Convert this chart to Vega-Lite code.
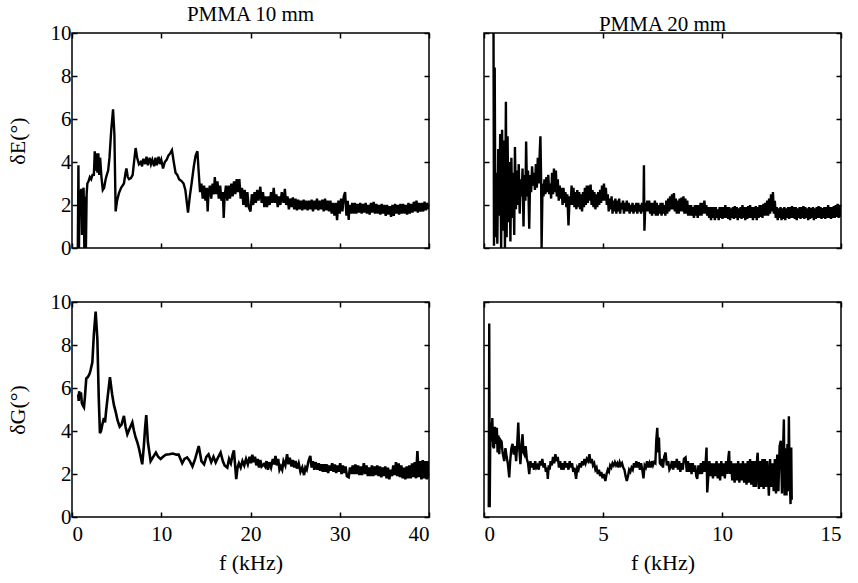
{
"$schema": "https://vega.github.io/schema/vega-lite/v6.json",
"background": "white",
"padding": {"left": 5, "top": 3, "right": 5, "bottom": 0},
"config": {
  "font": "Liberation Serif",
  "view": {"stroke": "black", "strokeWidth": 1.5},
  "style": {"guide-label": {"font": "Liberation Serif", "fill": "black"}, "guide-title": {"font": "Liberation Serif", "fill": "black"}, "group-title": {"font": "Liberation Serif"}},
  "axis": {"domain": false, "grid": false, "tickColor": "black", "tickSize": -5, "tickWidth": 1.5, "labelFont": "Liberation Serif", "labelFontSize": 21, "labelColor": "black", "labelPadding": 6, "titleFont": "Liberation Serif", "titleFontSize": 22, "titleFontWeight": "normal", "titleColor": "black"},
  "title": {"font": "Liberation Serif", "fontSize": 21, "fontWeight": "normal", "color": "black", "offset": -3}
},
"datasets": {
"e10": [
{"f":0.65,"d":0},{"f":0.72,"d":3.85},{"f":0.78,"d":0},{"f":0.85,"d":2.7},{"f":0.95,"d":2.5},{"f":1.05,"d":2.75},{"f":1.12,"d":0.6},{"f":1.2,"d":2.6},{"f":1.3,"d":2.8},{"f":1.38,"d":0},{"f":1.48,"d":2.4},{"f":1.56,"d":0},{"f":1.64,"d":2.5},{"f":1.72,"d":3.0},{"f":1.85,"d":3.1},{"f":2.0,"d":3.3},{"f":2.15,"d":3.2},{"f":2.3,"d":3.4},{"f":2.45,"d":3.4},{"f":2.55,"d":4.5},{"f":2.65,"d":3.6},{"f":2.75,"d":4.4},{"f":2.85,"d":3.5},{"f":2.95,"d":4.4},{"f":3.05,"d":3.4},{"f":3.15,"d":4.2},{"f":3.3,"d":3.3},{"f":3.45,"d":2.7},{"f":3.6,"d":2.8},{"f":3.77,"d":3.2},{"f":3.9,"d":3.4},{"f":4.05,"d":3.6},{"f":4.2,"d":4.2},{"f":4.4,"d":5.5},{"f":4.6,"d":6.45},{"f":4.75,"d":5.3},{"f":4.89,"d":1.7},{"f":5.05,"d":2.2},{"f":5.26,"d":2.55},{"f":5.5,"d":2.8},{"f":5.82,"d":3.0},{"f":6.0,"d":3.5},{"f":6.1,"d":3.7},{"f":6.25,"d":3.3},{"f":6.4,"d":3.2},{"f":6.6,"d":3.25},{"f":6.8,"d":3.4},{"f":6.95,"d":4.0},{"f":7.13,"d":4.65},{"f":7.3,"d":4.2},{"f":7.5,"d":3.9},{"f":7.7,"d":4.0},{"f":7.85,"d":3.8},{"f":8.0,"d":4.15},{"f":8.2,"d":3.9},{"f":8.35,"d":4.25},{"f":8.5,"d":3.85},{"f":8.7,"d":4.2},{"f":8.85,"d":3.9},{"f":9.0,"d":4.1},{"f":9.2,"d":3.8},{"f":9.35,"d":4.2},{"f":9.5,"d":3.85},{"f":9.7,"d":4.25},{"f":9.85,"d":3.9},{"f":10.0,"d":4.1},{"f":10.2,"d":3.7},{"f":10.4,"d":4.0},{"f":10.6,"d":4.1},{"f":10.8,"d":4.3},{"f":11.0,"d":4.4},{"f":11.2,"d":4.55},{"f":11.4,"d":4.0},{"f":11.6,"d":3.5},{"f":11.8,"d":3.4},{"f":12.0,"d":3.2},{"f":12.3,"d":3.1},{"f":12.5,"d":3.0},{"f":12.7,"d":2.7},{"f":12.9,"d":2.0},{"f":13.0,"d":1.65},{"f":13.2,"d":2.4},{"f":13.4,"d":3.0},{"f":13.65,"d":3.8},{"f":13.85,"d":4.3},{"f":14.05,"d":4.5},{"f":14.2,"d":3.5},{"f":14.35,"d":2.6},{"f":14.5,"d":3.0},{"f":14.65,"d":2.3},{"f":14.8,"d":2.9},{"f":14.95,"d":2.2},{"f":15.1,"d":2.8},{"f":15.2,"d":1.7},{"f":15.3,"d":2.6},{"f":15.45,"d":2.9},{"f":15.6,"d":2.3},{"f":15.75,"d":3.0},{"f":15.9,"d":2.5},{"f":16.0,"d":3.3},{"f":16.15,"d":2.5},{"f":16.3,"d":3.1},{"f":16.45,"d":2.3},{"f":16.6,"d":2.9},{"f":16.75,"d":2.2},{"f":16.9,"d":2.6},{"f":17.0,"d":1.4},{"f":17.1,"d":2.4},{"f":17.25,"d":2.9},{"f":17.4,"d":2.2},{"f":17.55,"d":2.9},{"f":17.7,"d":2.3},{"f":17.85,"d":3.0},{"f":18.0,"d":2.4},{"f":18.15,"d":3.1},{"f":18.3,"d":2.5},{"f":18.45,"d":3.2},{"f":18.6,"d":2.6},{"f":18.75,"d":3.2},{"f":18.9,"d":2.3},{"f":19.05,"d":2.8},{"f":19.2,"d":2.0},{"f":19.35,"d":2.7},{"f":19.5,"d":1.9},{"f":19.65,"d":2.6},{"f":19.8,"d":1.9},{"f":20.0,"d":1.7},{"f":20.15,"d":2.5},{"f":20.3,"d":2.0},{"f":20.45,"d":2.6},{"f":20.6,"d":2.1},{"f":20.75,"d":2.7},{"f":20.9,"d":2.2},{"f":21.1,"d":2.85},{"f":21.25,"d":2.1},{"f":21.4,"d":2.6},{"f":21.55,"d":1.9},{"f":21.7,"d":2.4},{"f":21.85,"d":1.9},{"f":22.0,"d":2.4},{"f":22.15,"d":2.0},{"f":22.3,"d":2.6},{"f":22.45,"d":2.1},{"f":22.6,"d":2.8},{"f":22.75,"d":2.1},{"f":22.9,"d":2.5},{"f":23.05,"d":1.9},{"f":23.2,"d":2.4},{"f":23.35,"d":2.0},{"f":23.5,"d":2.6},{"f":23.7,"d":2.1},{"f":23.85,"d":2.75},{"f":24.0,"d":2.0},{"f":24.15,"d":2.4},{"f":24.3,"d":1.8},{"f":24.45,"d":2.3},{"f":24.6,"d":1.9},{"f":24.75,"d":2.35},{"f":24.9,"d":1.8},{"f":25.05,"d":2.3},{"f":25.2,"d":1.75},{"f":25.35,"d":2.25},{"f":25.5,"d":1.8},{"f":25.65,"d":2.2},{"f":25.8,"d":1.75},{"f":25.95,"d":2.25},{"f":26.1,"d":1.8},{"f":26.25,"d":2.2},{"f":26.4,"d":1.75},{"f":26.55,"d":2.2},{"f":26.7,"d":1.8},{"f":26.85,"d":2.25},{"f":27.0,"d":1.7},{"f":27.15,"d":2.2},{"f":27.3,"d":1.8},{"f":27.45,"d":2.3},{"f":27.6,"d":1.75},{"f":27.75,"d":2.2},{"f":27.9,"d":1.8},{"f":28.05,"d":2.25},{"f":28.2,"d":1.7},{"f":28.35,"d":2.3},{"f":28.5,"d":1.75},{"f":28.65,"d":2.2},{"f":28.8,"d":1.7},{"f":28.95,"d":2.2},{"f":29.1,"d":1.6},{"f":29.25,"d":2.1},{"f":29.4,"d":1.5},{"f":29.55,"d":2.1},{"f":29.7,"d":1.3},{"f":29.85,"d":2.2},{"f":30.0,"d":1.6},{"f":30.15,"d":2.3},{"f":30.3,"d":1.7},{"f":30.45,"d":2.4},{"f":30.6,"d":2.6},{"f":30.75,"d":1.5},{"f":30.9,"d":2.2},{"f":31.0,"d":1.3},{"f":31.1,"d":2.0},{"f":31.25,"d":1.6},{"f":31.4,"d":2.1},{"f":31.55,"d":1.6},{"f":31.7,"d":2.1},{"f":31.85,"d":1.6},{"f":32.0,"d":2.05},{"f":32.15,"d":1.65},{"f":32.3,"d":2.1},{"f":32.45,"d":1.6},{"f":32.6,"d":2.05},{"f":32.75,"d":1.65},{"f":32.9,"d":2.1},{"f":33.05,"d":1.6},{"f":33.2,"d":2.0},{"f":33.35,"d":1.55},{"f":33.5,"d":2.1},{"f":33.65,"d":1.65},{"f":33.8,"d":2.15},{"f":33.95,"d":1.6},{"f":34.1,"d":2.05},{"f":34.25,"d":1.6},{"f":34.4,"d":2.0},{"f":34.55,"d":1.55},{"f":34.7,"d":2.05},{"f":34.85,"d":1.6},{"f":35.0,"d":2.0},{"f":35.15,"d":1.5},{"f":35.3,"d":2.0},{"f":35.45,"d":1.55},{"f":35.6,"d":1.95},{"f":35.75,"d":1.45},{"f":35.9,"d":2.0},{"f":36.05,"d":1.5},{"f":36.2,"d":2.05},{"f":36.35,"d":1.6},{"f":36.5,"d":2.0},{"f":36.65,"d":1.55},{"f":36.8,"d":2.05},{"f":36.95,"d":1.6},{"f":37.1,"d":2.05},{"f":37.25,"d":1.6},{"f":37.4,"d":2.0},{"f":37.55,"d":1.55},{"f":37.7,"d":2.1},{"f":37.85,"d":1.6},{"f":38.0,"d":2.05},{"f":38.15,"d":1.65},{"f":38.3,"d":2.15},{"f":38.45,"d":1.7},{"f":38.6,"d":2.2},{"f":38.75,"d":1.65},{"f":38.9,"d":2.1},{"f":39.05,"d":1.7},{"f":39.2,"d":2.1},{"f":39.35,"d":1.7},{"f":39.5,"d":2.15},{"f":39.65,"d":1.75},{"f":39.8,"d":2.1},{"f":39.95,"d":1.8}
],
"e20": [
{"f":0.40,"d":10},{"f":0.42,"d":0.1},{"f":0.45,"d":8.4},{"f":0.48,"d":0.5},{"f":0.52,"d":3.5},{"f":0.56,"d":0.2},{"f":0.60,"d":4.6},{"f":0.64,"d":1.5},{"f":0.68,"d":5.3},{"f":0.72,"d":0.0},{"f":0.76,"d":5.5},{"f":0.80,"d":0.8},{"f":0.84,"d":5.0},{"f":0.88,"d":0.0},{"f":0.92,"d":6.8},{"f":0.95,"d":0.5},{"f":0.99,"d":5.2},{"f":1.03,"d":1.2},{"f":1.07,"d":4.0},{"f":1.11,"d":0.3},{"f":1.15,"d":4.2},{"f":1.19,"d":1.4},{"f":1.23,"d":3.5},{"f":1.27,"d":0.6},{"f":1.30,"d":4.7},{"f":1.34,"d":1.8},{"f":1.38,"d":3.6},{"f":1.42,"d":2.0},{"f":1.46,"d":3.9},{"f":1.50,"d":1.6},{"f":1.54,"d":3.2},{"f":1.58,"d":2.4},{"f":1.62,"d":3.7},{"f":1.66,"d":1.0},{"f":1.70,"d":3.4},{"f":1.74,"d":2.2},{"f":1.77,"d":4.95},{"f":1.81,"d":2.4},{"f":1.85,"d":3.6},{"f":1.90,"d":0.9},{"f":1.94,"d":3.4},{"f":1.98,"d":2.6},{"f":2.02,"d":3.8},{"f":2.06,"d":2.9},{"f":2.10,"d":3.5},{"f":2.14,"d":2.7},{"f":2.18,"d":3.9},{"f":2.22,"d":2.8},{"f":2.26,"d":4.2},{"f":2.30,"d":3.0},{"f":2.34,"d":4.4},{"f":2.37,"d":5.2},{"f":2.40,"d":3.2},{"f":2.42,"d":0.0},{"f":2.46,"d":3.0},{"f":2.50,"d":2.4},{"f":2.54,"d":3.2},{"f":2.58,"d":2.5},{"f":2.62,"d":3.3},{"f":2.66,"d":2.6},{"f":2.70,"d":3.4},{"f":2.74,"d":2.5},{"f":2.78,"d":3.0},{"f":2.82,"d":2.3},{"f":2.86,"d":3.5},{"f":2.90,"d":2.5},{"f":2.94,"d":3.7},{"f":2.98,"d":2.6},{"f":3.02,"d":3.6},{"f":3.06,"d":2.4},{"f":3.10,"d":3.2},{"f":3.14,"d":2.2},{"f":3.18,"d":2.9},{"f":3.22,"d":2.3},{"f":3.26,"d":2.8},{"f":3.30,"d":2.0},{"f":3.34,"d":2.8},{"f":3.38,"d":2.1},{"f":3.42,"d":2.6},{"f":3.46,"d":1.9},{"f":3.50,"d":2.5},{"f":3.55,"d":1.05},{"f":3.60,"d":2.4},{"f":3.64,"d":2.0},{"f":3.68,"d":2.9},{"f":3.72,"d":2.0},{"f":3.76,"d":2.8},{"f":3.80,"d":1.9},{"f":3.84,"d":2.6},{"f":3.88,"d":1.8},{"f":3.92,"d":2.7},{"f":3.96,"d":1.9},{"f":4.00,"d":2.6},{"f":4.04,"d":1.8},{"f":4.08,"d":2.5},{"f":4.12,"d":1.7},{"f":4.16,"d":2.6},{"f":4.20,"d":1.9},{"f":4.24,"d":2.8},{"f":4.28,"d":2.0},{"f":4.32,"d":2.9},{"f":4.36,"d":2.1},{"f":4.40,"d":2.9},{"f":4.44,"d":2.2},{"f":4.48,"d":2.95},{"f":4.52,"d":2.0},{"f":4.56,"d":2.7},{"f":4.60,"d":1.9},{"f":4.64,"d":2.6},{"f":4.68,"d":1.8},{"f":4.72,"d":2.5},{"f":4.76,"d":1.9},{"f":4.80,"d":2.6},{"f":4.84,"d":2.0},{"f":4.88,"d":2.7},{"f":4.92,"d":2.1},{"f":4.96,"d":2.9},{"f":5.00,"d":2.2},{"f":5.04,"d":3.0},{"f":5.08,"d":2.2},{"f":5.12,"d":2.8},{"f":5.16,"d":2.0},{"f":5.20,"d":2.5},{"f":5.24,"d":1.7},{"f":5.28,"d":2.3},{"f":5.32,"d":1.8},{"f":5.36,"d":2.4},{"f":5.40,"d":1.6},{"f":5.44,"d":2.2},{"f":5.48,"d":1.7},{"f":5.52,"d":2.3},{"f":5.56,"d":1.6},{"f":5.60,"d":2.2},{"f":5.64,"d":1.7},{"f":5.68,"d":2.3},{"f":5.72,"d":1.6},{"f":5.76,"d":2.1},{"f":5.80,"d":1.8},{"f":5.84,"d":2.2},{"f":5.88,"d":1.6},{"f":5.92,"d":2.1},{"f":5.96,"d":1.7},{"f":6.00,"d":2.2},{"f":6.04,"d":1.7},{"f":6.08,"d":2.1},{"f":6.12,"d":1.6},{"f":6.16,"d":2.0},{"f":6.20,"d":1.7},{"f":6.24,"d":2.1},{"f":6.28,"d":1.6},{"f":6.32,"d":2.0},{"f":6.36,"d":1.7},{"f":6.40,"d":2.1},{"f":6.44,"d":1.6},{"f":6.48,"d":2.1},{"f":6.52,"d":1.7},{"f":6.56,"d":2.0},{"f":6.60,"d":1.6},{"f":6.64,"d":2.1},{"f":6.70,"d":1.7},{"f":6.72,"d":3.85},{"f":6.74,"d":0.8},{"f":6.78,"d":2.1},{"f":6.82,"d":1.7},{"f":6.86,"d":2.2},{"f":6.90,"d":1.7},{"f":6.94,"d":2.2},{"f":6.98,"d":1.6},{"f":7.02,"d":2.1},{"f":7.06,"d":1.5},{"f":7.10,"d":2.1},{"f":7.14,"d":1.6},{"f":7.18,"d":2.2},{"f":7.22,"d":1.5},{"f":7.26,"d":2.1},{"f":7.30,"d":1.5},{"f":7.34,"d":2.0},{"f":7.38,"d":1.6},{"f":7.42,"d":2.1},{"f":7.46,"d":1.5},{"f":7.50,"d":2.1},{"f":7.54,"d":1.6},{"f":7.58,"d":2.0},{"f":7.62,"d":1.5},{"f":7.66,"d":2.2},{"f":7.70,"d":1.6},{"f":7.74,"d":2.3},{"f":7.78,"d":1.7},{"f":7.82,"d":2.4},{"f":7.86,"d":1.8},{"f":7.90,"d":2.5},{"f":7.94,"d":1.8},{"f":7.98,"d":2.55},{"f":8.02,"d":1.7},{"f":8.06,"d":2.3},{"f":8.10,"d":1.6},{"f":8.14,"d":2.2},{"f":8.18,"d":1.6},{"f":8.22,"d":2.3},{"f":8.26,"d":1.7},{"f":8.30,"d":2.35},{"f":8.34,"d":1.7},{"f":8.38,"d":2.4},{"f":8.42,"d":1.6},{"f":8.46,"d":2.3},{"f":8.50,"d":1.6},{"f":8.54,"d":2.2},{"f":8.58,"d":1.5},{"f":8.62,"d":2.0},{"f":8.66,"d":1.5},{"f":8.70,"d":2.0},{"f":8.74,"d":1.5},{"f":8.78,"d":1.9},{"f":8.82,"d":1.4},{"f":8.86,"d":2.0},{"f":8.90,"d":1.5},{"f":8.94,"d":2.0},{"f":8.98,"d":1.4},{"f":9.02,"d":2.0},{"f":9.06,"d":1.5},{"f":9.10,"d":2.1},{"f":9.14,"d":1.5},{"f":9.18,"d":2.1},{"f":9.22,"d":1.6},{"f":9.26,"d":2.2},{"f":9.30,"d":1.6},{"f":9.34,"d":2.0},{"f":9.38,"d":1.5},{"f":9.42,"d":1.9},{"f":9.46,"d":1.4},{"f":9.50,"d":1.9},{"f":9.54,"d":1.3},{"f":9.58,"d":1.9},{"f":9.62,"d":1.4},{"f":9.66,"d":1.9},{"f":9.70,"d":1.3},{"f":9.74,"d":1.9},{"f":9.78,"d":1.4},{"f":9.82,"d":1.8},{"f":9.86,"d":1.3},{"f":9.90,"d":1.9},{"f":9.94,"d":1.4},{"f":9.98,"d":1.9},{"f":10.02,"d":1.35},{"f":10.06,"d":1.9},{"f":10.10,"d":1.4},{"f":10.14,"d":2.0},{"f":10.18,"d":1.4},{"f":10.22,"d":1.9},{"f":10.26,"d":1.35},{"f":10.30,"d":1.9},{"f":10.34,"d":1.3},{"f":10.38,"d":1.85},{"f":10.42,"d":1.4},{"f":10.46,"d":1.9},{"f":10.50,"d":1.35},{"f":10.54,"d":1.95},{"f":10.58,"d":1.4},{"f":10.62,"d":1.9},{"f":10.66,"d":1.3},{"f":10.70,"d":1.85},{"f":10.74,"d":1.4},{"f":10.78,"d":1.9},{"f":10.82,"d":1.35},{"f":10.86,"d":2.0},{"f":10.90,"d":1.4},{"f":10.94,"d":1.9},{"f":10.98,"d":1.3},{"f":11.02,"d":1.9},{"f":11.06,"d":1.35},{"f":11.10,"d":1.95},{"f":11.14,"d":1.4},{"f":11.18,"d":2.0},{"f":11.22,"d":1.4},{"f":11.26,"d":1.9},{"f":11.30,"d":1.3},{"f":11.34,"d":1.9},{"f":11.38,"d":1.4},{"f":11.42,"d":1.95},{"f":11.46,"d":1.3},{"f":11.50,"d":1.9},{"f":11.54,"d":1.4},{"f":11.58,"d":2.0},{"f":11.62,"d":1.45},{"f":11.66,"d":2.0},{"f":11.70,"d":1.4},{"f":11.74,"d":2.05},{"f":11.78,"d":1.5},{"f":11.82,"d":2.1},{"f":11.86,"d":1.5},{"f":11.90,"d":2.2},{"f":11.94,"d":1.5},{"f":11.98,"d":2.3},{"f":12.02,"d":1.6},{"f":12.06,"d":2.5},{"f":12.10,"d":1.7},{"f":12.14,"d":2.6},{"f":12.18,"d":1.6},{"f":12.22,"d":2.2},{"f":12.26,"d":1.4},{"f":12.30,"d":1.9},{"f":12.34,"d":1.3},{"f":12.38,"d":1.85},{"f":12.42,"d":1.4},{"f":12.46,"d":1.9},{"f":12.50,"d":1.3},{"f":12.54,"d":1.85},{"f":12.58,"d":1.35},{"f":12.62,"d":1.9},{"f":12.66,"d":1.3},{"f":12.70,"d":1.85},{"f":12.74,"d":1.4},{"f":12.78,"d":1.9},{"f":12.82,"d":1.35},{"f":12.86,"d":1.9},{"f":12.90,"d":1.4},{"f":12.94,"d":1.95},{"f":12.98,"d":1.4},{"f":13.02,"d":1.9},{"f":13.06,"d":1.35},{"f":13.10,"d":1.9},{"f":13.14,"d":1.3},{"f":13.18,"d":1.85},{"f":13.22,"d":1.4},{"f":13.26,"d":1.9},{"f":13.30,"d":1.35},{"f":13.34,"d":1.9},{"f":13.38,"d":1.4},{"f":13.42,"d":1.95},{"f":13.46,"d":1.35},{"f":13.50,"d":1.9},{"f":13.54,"d":1.4},{"f":13.58,"d":1.85},{"f":13.62,"d":1.3},{"f":13.66,"d":1.9},{"f":13.70,"d":1.35},{"f":13.74,"d":1.85},{"f":13.78,"d":1.4},{"f":13.82,"d":1.9},{"f":13.86,"d":1.3},{"f":13.90,"d":1.85},{"f":13.94,"d":1.35},{"f":13.98,"d":1.9},{"f":14.02,"d":1.4},{"f":14.06,"d":1.95},{"f":14.10,"d":1.4},{"f":14.14,"d":1.9},{"f":14.18,"d":1.35},{"f":14.22,"d":1.85},{"f":14.26,"d":1.4},{"f":14.30,"d":1.9},{"f":14.34,"d":1.35},{"f":14.38,"d":1.9},{"f":14.42,"d":1.4},{"f":14.46,"d":2.0},{"f":14.50,"d":1.4},{"f":14.54,"d":1.9},{"f":14.58,"d":1.35},{"f":14.62,"d":1.9},{"f":14.66,"d":1.4},{"f":14.70,"d":1.95},{"f":14.74,"d":1.4},{"f":14.78,"d":2.0},{"f":14.82,"d":1.45},{"f":14.86,"d":2.05},{"f":14.90,"d":1.4},{"f":14.94,"d":2.0},{"f":14.98,"d":1.45}
],
"g10": [
{"f":0.7,"d":5.7},{"f":0.75,"d":5.4},{"f":0.8,"d":5.85},{"f":0.9,"d":5.5},{"f":1.0,"d":5.8},{"f":1.1,"d":5.3},{"f":1.2,"d":5.2},{"f":1.34,"d":5.1},{"f":1.45,"d":5.6},{"f":1.6,"d":6.45},{"f":1.75,"d":6.5},{"f":1.9,"d":6.6},{"f":2.0,"d":6.7},{"f":2.09,"d":6.85},{"f":2.28,"d":7.2},{"f":2.45,"d":8.5},{"f":2.65,"d":9.55},{"f":2.84,"d":8.3},{"f":3.0,"d":5.5},{"f":3.13,"d":3.9},{"f":3.25,"d":4.0},{"f":3.4,"d":4.3},{"f":3.58,"d":4.6},{"f":3.7,"d":4.4},{"f":3.84,"d":5.0},{"f":4.0,"d":5.6},{"f":4.25,"d":6.5},{"f":4.5,"d":5.7},{"f":4.7,"d":5.2},{"f":4.89,"d":4.9},{"f":5.1,"d":4.5},{"f":5.34,"d":4.2},{"f":5.55,"d":4.3},{"f":5.82,"d":4.7},{"f":6.0,"d":4.2},{"f":6.2,"d":3.85},{"f":6.45,"d":4.1},{"f":6.76,"d":4.4},{"f":6.95,"d":4.0},{"f":7.13,"d":3.7},{"f":7.3,"d":3.5},{"f":7.5,"d":3.2},{"f":7.7,"d":2.8},{"f":7.87,"d":2.45},{"f":8.05,"d":3.3},{"f":8.2,"d":4.2},{"f":8.32,"d":4.74},{"f":8.5,"d":3.5},{"f":8.81,"d":2.6},{"f":9.1,"d":2.8},{"f":9.4,"d":3.0},{"f":9.65,"d":2.8},{"f":9.93,"d":2.7},{"f":10.2,"d":2.8},{"f":10.5,"d":2.9},{"f":10.9,"d":2.92},{"f":11.3,"d":2.95},{"f":11.7,"d":2.9},{"f":11.95,"d":2.9},{"f":12.35,"d":2.5},{"f":12.6,"d":2.7},{"f":12.9,"d":2.77},{"f":13.2,"d":2.6},{"f":13.5,"d":2.35},{"f":13.8,"d":2.7},{"f":14.2,"d":3.3},{"f":14.5,"d":2.6},{"f":14.8,"d":2.45},{"f":15.05,"d":2.8},{"f":15.3,"d":2.92},{"f":15.6,"d":2.55},{"f":15.85,"d":2.8},{"f":16.1,"d":2.54},{"f":16.4,"d":2.8},{"f":16.65,"d":3.0},{"f":16.9,"d":2.6},{"f":17.1,"d":2.4},{"f":17.4,"d":2.3},{"f":17.6,"d":2.7},{"f":17.8,"d":2.5},{"f":18.0,"d":2.9},{"f":18.14,"d":3.1},{"f":18.3,"d":2.3},{"f":18.4,"d":1.76},{"f":18.55,"d":2.3},{"f":18.7,"d":2.5},{"f":18.9,"d":2.3},{"f":19.1,"d":2.6},{"f":19.3,"d":2.4},{"f":19.5,"d":2.7},{"f":19.7,"d":2.45},{"f":19.9,"d":2.8},{"f":20.05,"d":2.5},{"f":20.2,"d":2.9},{"f":20.35,"d":2.55},{"f":20.5,"d":2.8},{"f":20.65,"d":2.4},{"f":20.8,"d":2.7},{"f":20.95,"d":2.3},{"f":21.1,"d":2.65},{"f":21.25,"d":2.35},{"f":21.5,"d":2.46},{"f":21.65,"d":2.35},{"f":21.8,"d":2.6},{"f":21.95,"d":2.2},{"f":22.1,"d":2.55},{"f":22.3,"d":2.3},{"f":22.5,"d":2.7},{"f":22.65,"d":2.45},{"f":22.8,"d":2.84},{"f":22.95,"d":2.4},{"f":23.1,"d":2.7},{"f":23.25,"d":2.2},{"f":23.4,"d":2.35},{"f":23.55,"d":2.2},{"f":23.7,"d":2.6},{"f":23.9,"d":2.4},{"f":24.1,"d":2.92},{"f":24.25,"d":2.45},{"f":24.4,"d":2.75},{"f":24.6,"d":2.35},{"f":24.75,"d":2.65},{"f":24.9,"d":2.3},{"f":25.05,"d":2.6},{"f":25.2,"d":2.25},{"f":25.4,"d":2.5},{"f":25.6,"d":2.1},{"f":25.8,"d":2.3},{"f":26.0,"d":1.95},{"f":26.15,"d":2.3},{"f":26.3,"d":2.2},{"f":26.5,"d":2.6},{"f":26.7,"d":2.84},{"f":26.85,"d":2.3},{"f":27.0,"d":2.6},{"f":27.15,"d":2.2},{"f":27.3,"d":2.55},{"f":27.5,"d":2.2},{"f":27.65,"d":2.5},{"f":27.8,"d":2.15},{"f":27.95,"d":2.45},{"f":28.1,"d":2.1},{"f":28.25,"d":2.45},{"f":28.4,"d":2.1},{"f":28.55,"d":2.45},{"f":28.7,"d":2.05},{"f":28.85,"d":2.4},{"f":29.0,"d":2.15},{"f":29.15,"d":2.5},{"f":29.3,"d":2.1},{"f":29.45,"d":2.45},{"f":29.6,"d":2.05},{"f":29.75,"d":2.4},{"f":29.9,"d":2.1},{"f":30.05,"d":2.5},{"f":30.2,"d":2.0},{"f":30.35,"d":2.4},{"f":30.5,"d":2.05},{"f":30.65,"d":2.35},{"f":30.8,"d":1.9},{"f":31.0,"d":1.85},{"f":31.15,"d":2.3},{"f":31.3,"d":2.0},{"f":31.45,"d":2.4},{"f":31.6,"d":2.0},{"f":31.75,"d":2.45},{"f":31.9,"d":2.0},{"f":32.05,"d":2.4},{"f":32.2,"d":1.95},{"f":32.35,"d":2.35},{"f":32.5,"d":1.95},{"f":32.7,"d":2.5},{"f":32.85,"d":2.0},{"f":33.0,"d":2.4},{"f":33.15,"d":1.9},{"f":33.3,"d":2.3},{"f":33.45,"d":1.9},{"f":33.6,"d":2.4},{"f":33.75,"d":1.9},{"f":33.9,"d":2.35},{"f":34.05,"d":1.95},{"f":34.2,"d":2.4},{"f":34.35,"d":1.9},{"f":34.5,"d":2.35},{"f":34.65,"d":1.85},{"f":34.8,"d":2.3},{"f":34.95,"d":1.9},{"f":35.1,"d":2.35},{"f":35.25,"d":1.8},{"f":35.4,"d":2.3},{"f":35.55,"d":1.75},{"f":35.7,"d":2.2},{"f":35.85,"d":1.9},{"f":36.0,"d":2.4},{"f":36.15,"d":1.95},{"f":36.3,"d":2.55},{"f":36.45,"d":1.9},{"f":36.6,"d":2.5},{"f":36.75,"d":1.85},{"f":36.9,"d":2.4},{"f":37.05,"d":1.8},{"f":37.2,"d":2.3},{"f":37.35,"d":1.75},{"f":37.5,"d":2.35},{"f":37.65,"d":1.8},{"f":37.8,"d":2.4},{"f":37.95,"d":1.8},{"f":38.1,"d":2.5},{"f":38.25,"d":1.85},{"f":38.4,"d":2.55},{"f":38.55,"d":1.8},{"f":38.7,"d":3.07},{"f":38.85,"d":1.85},{"f":39.0,"d":2.6},{"f":39.15,"d":1.75},{"f":39.3,"d":2.65},{"f":39.45,"d":1.8},{"f":39.6,"d":2.6},{"f":39.75,"d":1.75},{"f":39.9,"d":2.6},{"f":40.0,"d":1.8}
],
"g20": [
{"f":0.20,"d":0.45},{"f":0.22,"d":9.0},{"f":0.24,"d":0.45},{"f":0.27,"d":4.4},{"f":0.30,"d":3.5},{"f":0.35,"d":4.6},{"f":0.38,"d":3.3},{"f":0.42,"d":3.2},{"f":0.46,"d":4.2},{"f":0.50,"d":3.4},{"f":0.54,"d":4.15},{"f":0.57,"d":3.0},{"f":0.60,"d":3.8},{"f":0.64,"d":2.92},{"f":0.68,"d":3.6},{"f":0.74,"d":3.5},{"f":0.78,"d":3.0},{"f":0.85,"d":2.6},{"f":0.90,"d":3.2},{"f":0.95,"d":2.8},{"f":1.00,"d":2.5},{"f":1.06,"d":1.84},{"f":1.10,"d":2.6},{"f":1.15,"d":3.2},{"f":1.20,"d":3.4},{"f":1.25,"d":2.9},{"f":1.30,"d":3.3},{"f":1.35,"d":2.6},{"f":1.40,"d":3.5},{"f":1.44,"d":4.39},{"f":1.48,"d":3.2},{"f":1.53,"d":2.46},{"f":1.58,"d":3.4},{"f":1.62,"d":3.85},{"f":1.66,"d":3.0},{"f":1.70,"d":2.9},{"f":1.75,"d":3.3},{"f":1.80,"d":2.7},{"f":1.85,"d":2.5},{"f":1.90,"d":1.99},{"f":1.95,"d":2.6},{"f":2.00,"d":2.3},{"f":2.05,"d":2.5},{"f":2.10,"d":2.2},{"f":2.15,"d":2.6},{"f":2.20,"d":2.3},{"f":2.25,"d":2.4},{"f":2.30,"d":2.2},{"f":2.35,"d":2.6},{"f":2.40,"d":2.4},{"f":2.45,"d":2.7},{"f":2.50,"d":2.3},{"f":2.55,"d":2.5},{"f":2.60,"d":2.1},{"f":2.65,"d":2.3},{"f":2.68,"d":1.77},{"f":2.72,"d":2.4},{"f":2.76,"d":2.2},{"f":2.80,"d":2.6},{"f":2.85,"d":2.4},{"f":2.90,"d":2.8},{"f":2.95,"d":2.5},{"f":3.00,"d":2.92},{"f":3.05,"d":2.6},{"f":3.10,"d":2.8},{"f":3.15,"d":2.3},{"f":3.20,"d":2.6},{"f":3.25,"d":2.2},{"f":3.30,"d":2.5},{"f":3.35,"d":2.2},{"f":3.40,"d":2.6},{"f":3.45,"d":2.3},{"f":3.50,"d":2.5},{"f":3.55,"d":2.2},{"f":3.60,"d":2.6},{"f":3.65,"d":2.3},{"f":3.70,"d":2.5},{"f":3.75,"d":2.1},{"f":3.80,"d":2.3},{"f":3.87,"d":1.77},{"f":3.92,"d":2.3},{"f":3.97,"d":2.2},{"f":4.02,"d":2.5},{"f":4.07,"d":2.3},{"f":4.12,"d":2.6},{"f":4.17,"d":2.4},{"f":4.22,"d":2.7},{"f":4.27,"d":2.5},{"f":4.32,"d":2.7},{"f":4.37,"d":2.6},{"f":4.43,"d":2.92},{"f":4.48,"d":2.5},{"f":4.53,"d":2.7},{"f":4.58,"d":2.4},{"f":4.63,"d":2.5},{"f":4.68,"d":2.2},{"f":4.73,"d":2.3},{"f":4.78,"d":2.0},{"f":4.83,"d":2.2},{"f":4.88,"d":1.9},{"f":4.93,"d":2.1},{"f":4.98,"d":1.8},{"f":5.03,"d":2.0},{"f":5.10,"d":1.67},{"f":5.15,"d":2.0},{"f":5.20,"d":2.2},{"f":5.25,"d":2.1},{"f":5.30,"d":2.4},{"f":5.35,"d":2.3},{"f":5.40,"d":2.5},{"f":5.45,"d":2.4},{"f":5.50,"d":2.55},{"f":5.55,"d":2.4},{"f":5.60,"d":2.5},{"f":5.65,"d":2.3},{"f":5.70,"d":2.55},{"f":5.75,"d":2.4},{"f":5.80,"d":2.5},{"f":5.85,"d":2.3},{"f":5.90,"d":2.2},{"f":5.95,"d":1.9},{"f":6.00,"d":1.68},{"f":6.05,"d":1.9},{"f":6.10,"d":2.2},{"f":6.15,"d":2.1},{"f":6.20,"d":2.3},{"f":6.25,"d":2.2},{"f":6.30,"d":2.5},{"f":6.35,"d":2.3},{"f":6.40,"d":2.6},{"f":6.45,"d":2.3},{"f":6.50,"d":2.55},{"f":6.55,"d":2.2},{"f":6.60,"d":2.5},{"f":6.65,"d":2.2},{"f":6.70,"d":1.8},{"f":6.75,"d":2.4},{"f":6.80,"d":2.3},{"f":6.85,"d":2.6},{"f":6.90,"d":2.3},{"f":6.95,"d":2.5},{"f":7.00,"d":2.3},{"f":7.05,"d":2.6},{"f":7.10,"d":2.4},{"f":7.15,"d":2.55},{"f":7.20,"d":2.5},{"f":7.24,"d":3.6},{"f":7.28,"d":4.15},{"f":7.32,"d":3.0},{"f":7.35,"d":3.7},{"f":7.39,"d":2.5},{"f":7.42,"d":2.46},{"f":7.47,"d":2.7},{"f":7.52,"d":2.3},{"f":7.57,"d":2.8},{"f":7.63,"d":3.0},{"f":7.68,"d":2.4},{"f":7.74,"d":2.6},{"f":7.79,"d":2.2},{"f":7.84,"d":2.3},{"f":7.90,"d":2.6},{"f":7.95,"d":2.2},{"f":8.00,"d":2.6},{"f":8.05,"d":2.3},{"f":8.10,"d":2.7},{"f":8.15,"d":2.2},{"f":8.20,"d":2.6},{"f":8.25,"d":2.1},{"f":8.30,"d":2.5},{"f":8.35,"d":2.2},{"f":8.40,"d":2.7},{"f":8.47,"d":2.77},{"f":8.52,"d":2.1},{"f":8.57,"d":2.6},{"f":8.62,"d":2.1},{"f":8.67,"d":2.5},{"f":8.72,"d":2.0},{"f":8.77,"d":2.5},{"f":8.82,"d":2.1},{"f":8.87,"d":2.4},{"f":8.92,"d":1.9},{"f":8.96,"d":1.77},{"f":9.01,"d":2.4},{"f":9.06,"d":2.0},{"f":9.11,"d":2.5},{"f":9.16,"d":2.0},{"f":9.21,"d":2.6},{"f":9.26,"d":2.1},{"f":9.31,"d":2.5},{"f":9.35,"d":3.23},{"f":9.38,"d":1.14},{"f":9.42,"d":1.8},{"f":9.47,"d":2.6},{"f":9.52,"d":1.9},{"f":9.57,"d":2.5},{"f":9.62,"d":1.8},{"f":9.67,"d":2.5},{"f":9.72,"d":1.9},{"f":9.77,"d":2.6},{"f":9.82,"d":1.8},{"f":9.87,"d":2.5},{"f":9.92,"d":1.7},{"f":9.97,"d":2.6},{"f":10.02,"d":1.9},{"f":10.07,"d":2.5},{"f":10.12,"d":1.8},{"f":10.17,"d":2.6},{"f":10.22,"d":2.0},{"f":10.27,"d":2.8},{"f":10.30,"d":3.07},{"f":10.33,"d":2.0},{"f":10.38,"d":2.6},{"f":10.43,"d":1.7},{"f":10.48,"d":2.5},{"f":10.53,"d":1.6},{"f":10.58,"d":2.5},{"f":10.63,"d":1.7},{"f":10.68,"d":2.6},{"f":10.73,"d":1.6},{"f":10.78,"d":2.5},{"f":10.83,"d":1.7},{"f":10.88,"d":2.6},{"f":10.93,"d":1.6},{"f":10.98,"d":2.5},{"f":11.03,"d":1.5},{"f":11.08,"d":2.6},{"f":11.13,"d":1.6},{"f":11.18,"d":2.7},{"f":11.23,"d":1.5},{"f":11.28,"d":2.6},{"f":11.33,"d":1.4},{"f":11.38,"d":2.6},{"f":11.43,"d":1.4},{"f":11.48,"d":2.8},{"f":11.50,"d":2.99},{"f":11.55,"d":1.3},{"f":11.60,"d":2.6},{"f":11.65,"d":1.4},{"f":11.70,"d":2.7},{"f":11.75,"d":1.3},{"f":11.80,"d":2.7},{"f":11.85,"d":1.4},{"f":11.90,"d":2.6},{"f":11.97,"d":0.99},{"f":12.02,"d":2.7},{"f":12.07,"d":1.4},{"f":12.12,"d":2.5},{"f":12.17,"d":1.2},{"f":12.22,"d":2.7},{"f":12.27,"d":1.1},{"f":12.32,"d":2.9},{"f":12.37,"d":1.2},{"f":12.42,"d":3.3},{"f":12.47,"d":3.54},{"f":12.52,"d":1.1},{"f":12.57,"d":3.3},{"f":12.60,"d":4.54},{"f":12.63,"d":1.0},{"f":12.67,"d":3.2},{"f":12.71,"d":1.0},{"f":12.75,"d":3.4},{"f":12.78,"d":1.2},{"f":12.81,"d":4.69},{"f":12.84,"d":2.0},{"f":12.88,"d":0.6},{"f":12.91,"d":3.23},{"f":12.93,"d":0.8}
]
},
"columns": 2,
"bounds": "flush",
"spacing": {"row": 54, "column": 55},
"concat": [
 {"width": 357, "height": 215, "title": {"text": "PMMA 10 mm", "font": "Liberation Serif"}, "data": {"name": "e10"},
  "layer": [
   {"mark": {"type": "line", "color": "black", "strokeWidth": 2.4, "clip": true},
    "encoding": {
     "x": {"field": "f", "type": "quantitative", "scale": {"domain": [0, 40], "nice": false}, "axis": {"orient": "bottom", "labels": false, "title": null, "values": [0, 10, 20, 30, 40]}},
     "y": {"field": "d", "type": "quantitative", "scale": {"domain": [0, 10], "nice": false}, "axis": {"orient": "left", "title": "δE(°)", "titlePadding": 21, "labelFont": "Liberation Serif", "titleFont": "Liberation Serif", "values": [0, 2, 4, 6, 8, 10]}}}},
   {"mark": {"type": "line", "strokeOpacity": 0},
    "encoding": {
     "x": {"field": "f", "type": "quantitative", "axis": {"orient": "top", "labels": false, "title": null, "values": [0, 10, 20, 30, 40]}},
     "y": {"field": "d", "type": "quantitative", "axis": {"orient": "right", "labels": false, "title": null, "values": [0, 2, 4, 6, 8, 10]}}}}
  ],
  "resolve": {"axis": {"x": "independent", "y": "independent"}}},
 {"width": 357, "height": 215, "title": {"text": "PMMA 20 mm", "font": "Liberation Serif"}, "data": {"name": "e20"},
  "layer": [
   {"mark": {"type": "line", "color": "black", "strokeWidth": 2.4, "clip": true},
    "encoding": {
     "x": {"field": "f", "type": "quantitative", "scale": {"domain": [0, 15], "nice": false}, "axis": {"orient": "bottom", "labels": false, "title": null, "values": [0, 5, 10, 15]}},
     "y": {"field": "d", "type": "quantitative", "scale": {"domain": [0, 10], "nice": false}, "axis": {"orient": "left", "labels": false, "title": null, "values": [0, 2, 4, 6, 8, 10]}}}},
   {"mark": {"type": "line", "strokeOpacity": 0},
    "encoding": {
     "x": {"field": "f", "type": "quantitative", "axis": {"orient": "top", "labels": false, "title": null, "values": [0, 5, 10, 15]}},
     "y": {"field": "d", "type": "quantitative", "axis": {"orient": "right", "labels": false, "title": null, "values": [0, 2, 4, 6, 8, 10]}}}}
  ],
  "resolve": {"axis": {"x": "independent", "y": "independent"}}},
 {"width": 357, "height": 215, "data": {"name": "g10"},
  "layer": [
   {"mark": {"type": "line", "color": "black", "strokeWidth": 2.6, "clip": true},
    "encoding": {
     "x": {"field": "f", "type": "quantitative", "scale": {"domain": [0, 40], "nice": false}, "axis": {"orient": "bottom", "title": "f (kHz)", "titlePadding": 8, "labelPadding": 11, "labelFont": "Liberation Serif", "titleFont": "Liberation Serif", "values": [0, 10, 20, 30, 40]}},
     "y": {"field": "d", "type": "quantitative", "scale": {"domain": [0, 10], "nice": false}, "axis": {"orient": "left", "title": "δG(°)", "titlePadding": 21, "labelFont": "Liberation Serif", "titleFont": "Liberation Serif", "values": [0, 2, 4, 6, 8, 10]}}}},
   {"mark": {"type": "line", "strokeOpacity": 0},
    "encoding": {
     "x": {"field": "f", "type": "quantitative", "axis": {"orient": "top", "labels": false, "title": null, "values": [0, 10, 20, 30, 40]}},
     "y": {"field": "d", "type": "quantitative", "axis": {"orient": "right", "labels": false, "title": null, "values": [0, 2, 4, 6, 8, 10]}}}}
  ],
  "resolve": {"axis": {"x": "independent", "y": "independent"}}},
 {"width": 357, "height": 215, "data": {"name": "g20"},
  "layer": [
   {"mark": {"type": "line", "color": "black", "strokeWidth": 2.4, "clip": true},
    "encoding": {
     "x": {"field": "f", "type": "quantitative", "scale": {"domain": [0, 15], "nice": false}, "axis": {"orient": "bottom", "title": "f (kHz)", "titlePadding": 8, "labelPadding": 11, "labelFont": "Liberation Serif", "titleFont": "Liberation Serif", "values": [0, 5, 10, 15]}},
     "y": {"field": "d", "type": "quantitative", "scale": {"domain": [0, 10], "nice": false}, "axis": {"orient": "left", "labels": false, "title": null, "values": [0, 2, 4, 6, 8, 10]}}}},
   {"mark": {"type": "line", "strokeOpacity": 0},
    "encoding": {
     "x": {"field": "f", "type": "quantitative", "axis": {"orient": "top", "labels": false, "title": null, "values": [0, 5, 10, 15]}},
     "y": {"field": "d", "type": "quantitative", "axis": {"orient": "right", "labels": false, "title": null, "values": [0, 2, 4, 6, 8, 10]}}}}
  ],
  "resolve": {"axis": {"x": "independent", "y": "independent"}}}
]
}
